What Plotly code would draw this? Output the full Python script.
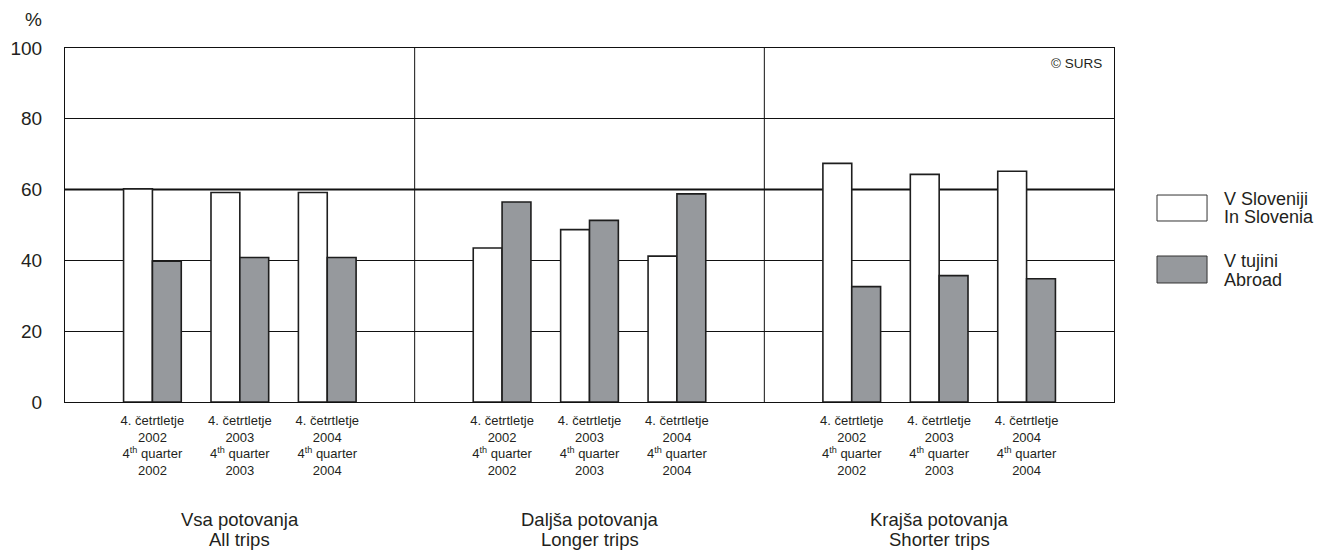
import plotly.graph_objects as go

# ---- data ----
group_line1 = ["Vsa potovanja", "Daljša potovanja", "Krajša potovanja"]
group_line2 = ["All trips", "Longer trips", "Shorter trips"]
periods = ["4. četrtletje<br>2002<br>4<sup>th</sup> quarter<br>2002",
           "4. četrtletje<br>2003<br>4<sup>th</sup> quarter<br>2003",
           "4. četrtletje<br>2004<br>4<sup>th</sup> quarter<br>2004"]
in_slovenia = [60.2, 59.2, 59.2, 43.5, 48.7, 41.2, 67.4, 64.3, 65.2]
abroad = [39.8, 40.8, 40.8, 56.5, 51.3, 58.8, 32.6, 35.7, 34.8]
series_line1 = ["V Sloveniji", "V tujini"]
series_line2 = ["In Slovenia", "Abroad"]
y_ticks = [0, 20, 40, 60, 80, 100]

n_groups = len(group_line1)
# positions: each panel spans 4 units, pairs centred at 1,2,3 within panel
xpos = [g * 4 + i + 1 for g in range(n_groups) for i in range(len(periods))]
ticktext = periods * n_groups

BW = 0.33
OUT = "#1e1e1e"
GRAY = "#96999d"
TXT = "#231f20"
FONT = "Liberation Sans, Arial, sans-serif"

fig = go.Figure()
fig.add_trace(go.Bar(x=xpos, y=in_slovenia, width=BW, offset=-BW, name=series_line1[0],
                     marker=dict(color="white", line=dict(color=OUT, width=1.6)), showlegend=False))
fig.add_trace(go.Bar(x=xpos, y=abroad, width=BW, offset=0, name=series_line1[1],
                     marker=dict(color=GRAY, line=dict(color=OUT, width=1.6)), showlegend=False))

shapes = []
# thick 60 line (under bars)
shapes.append(dict(type="line", xref="paper", yref="y", x0=0, x1=1, y0=60, y1=60,
                   line=dict(color="#111", width=2), layer="below"))
# panel separators
for g in range(1, n_groups):
    shapes.append(dict(type="line", xref="x", yref="paper", x0=g * 4, x1=g * 4, y0=0, y1=1,
                       line=dict(color="#111", width=1), layer="below"))

annotations = []
for g in range(n_groups):
    for txt, ys in ((group_line1[g], -117), (group_line2[g], -137)):
        annotations.append(dict(x=g * 4 + 2, y=0, xref="x", yref="paper", text=txt, showarrow=False,
                                xanchor="center", yanchor="middle", yshift=ys,
                                font=dict(size=18.5, color=TXT, family=FONT)))
annotations.append(dict(x=0, y=1, xref="paper", yref="paper", text="%", showarrow=False,
                        xanchor="center", yanchor="middle", xshift=-32, yshift=29,
                        font=dict(size=19, color=TXT, family=FONT)))
annotations.append(dict(x=1, y=1, xref="paper", yref="paper", text="© SURS", showarrow=False,
                        xanchor="right", yanchor="middle", xshift=-10, yshift=-15,
                        font=dict(size=13.5, color=TXT, family=FONT)))

# manual legend (paper coordinates)
leg = [("white", 0.5847, 0.5113, 0.5734, 0.5226),
       (GRAY, 0.4124, 0.3362, 0.3997, 0.3460)]
for k, (col, ytop, ybot, y1, y2) in enumerate(leg):
    shapes.append(dict(type="rect", xref="paper", yref="paper", x0=1.041, x1=1.0887, y0=ybot, y1=ytop,
                       fillcolor=col, line=dict(color="#333", width=1)))
    for txt, yy in ((series_line1[k], y1), (series_line2[k], y2)):
        annotations.append(dict(x=1.103, y=yy, xref="paper", yref="paper", text=txt, showarrow=False,
                                xanchor="left", yanchor="middle", align="left",
                                font=dict(size=18, color=TXT, family=FONT)))

fig.update_layout(
    width=1318, height=543,
    margin=dict(l=57, r=212, t=40, b=149),
    paper_bgcolor="white", plot_bgcolor="white",
    barmode="overlay",
    font=dict(family=FONT, color=TXT),
    shapes=shapes, annotations=annotations,
    xaxis=dict(range=[0, 12], tickvals=xpos, ticktext=ticktext, showgrid=False,
               showline=True, linecolor="#111", linewidth=1, mirror=True, ticks="",
               ticklabelstandoff=6, automargin=False,
               tickfont=dict(size=13, family="Liberation Sans Narrow, Arial Narrow, " + FONT, color=TXT),
               zeroline=False, fixedrange=True),
    yaxis=dict(range=[0, 100], tickvals=y_ticks, showgrid=True, gridcolor="#111",
               gridwidth=1, showline=True, linecolor="#111", linewidth=1, mirror=True, ticks="",
               ticklabelstandoff=18, automargin=False,
               tickfont=dict(size=19, color=TXT, family=FONT), zeroline=False),
)

fig.write_html("out.html")
